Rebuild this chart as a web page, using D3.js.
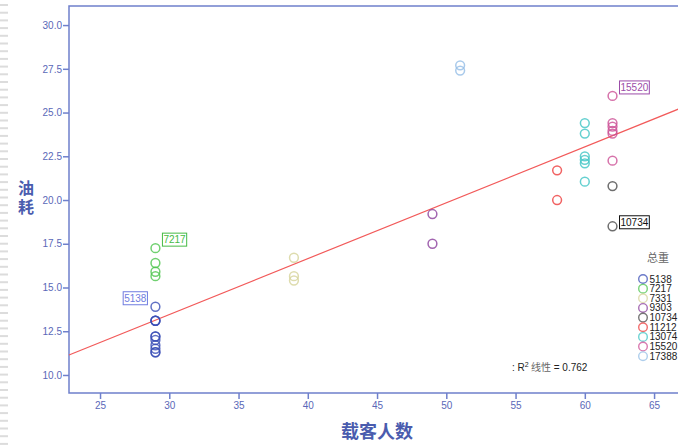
<!DOCTYPE html>
<html>
<head>
<meta charset="utf-8">
<script src="https://cdn.jsdelivr.net/npm/d3@7/dist/d3.min.js"></script>
<style>
  html, body { margin: 0; padding: 0; background: #fff; }
  svg { display: block; }
  .tick text { font-family: "Liberation Sans", Arial, sans-serif; font-size: 10px; fill: #5a68b8; }
</style>
</head>
<body>
<svg id="chart" width="678" height="446"></svg>
<script>
// 总重 groups (series), their passenger counts and fuel consumption readings
const groups = ["5138", "7217", "7331", "9303", "10734", "11212", "13074", "15520", "17388"];
const groupColors = ["#3a4db5", "#4cc44c", "#d6d39a", "#8b3f9c", "#4a4a4a", "#ee3c3c", "#3ec4c4", "#cc4f95", "#93bde6"];
const passengers = [29, 29, 39, 49, 62, 58, 60, 62, 51];
const fuel = [
  [13.9, 13.1, 13.1, 13.1, 12.2, 12.2, 12.0, 11.7, 11.5, 11.3, 11.3],
  [17.25, 16.4, 15.9, 15.65],
  [16.7, 15.65, 15.4],
  [19.2, 17.5],
  [20.8, 18.5],
  [21.7, 20.0],
  [24.4, 23.8, 22.5, 22.3, 22.1, 21.05],
  [25.95, 24.4, 24.2, 23.95, 23.8, 22.25],
  [27.7, 27.4]
];
// point labels: group and the reading that carries it
const labelGroups = ["5138", "7217", "15520", "10734"];
const labelValues = [13.9, 17.25, 25.95, 18.5];
const labelColors = ["#6f7ce0", "#45bb45", "#9b4ca8", "#111111"];

// linear fit (总体 R² 线性)
const fitIntercept = 3.87;
const fitSlope = 0.3195;
const rSquared = 0.762;

const xTicks = [25, 30, 35, 40, 45, 50, 55, 60, 65];
const yTicks = [10.0, 12.5, 15.0, 17.5, 20.0, 22.5, 25.0, 27.5, 30.0];
const xTitle = "载客人数";
const yTitle = "油耗";
const legendTitle = "总重";

const svg = d3.select("#chart");
const plotLeft = 69, plotRight = 679, plotTop = 6, plotBottom = 393;
const axisColor = "#6f80cc";

// page edge marks on the far left
const edge = svg.append("g");
d3.range(4, 446, 7.7).forEach(v => {
  edge.append("rect").attr("x", 0).attr("y", v).attr("width", 8).attr("height", 2).attr("fill", "#dcdcdc");
});

const x = d3.scaleLinear().domain([22.76, 66.8]).range([plotLeft, plotRight]);
const y = d3.scaleLinear().domain([8.97, 31.09]).range([plotBottom, plotTop]);

// plot frame
svg.append("path")
  .attr("d", `M${plotRight},${plotTop}H${plotLeft}V${plotBottom}H${plotRight}`)
  .attr("fill", "none").attr("stroke", axisColor).attr("stroke-width", 1.5);

// axes
const yAxis = svg.append("g").attr("transform", `translate(${plotLeft},0)`)
  .call(d3.axisLeft(y).tickValues(yTicks).tickFormat(d3.format(".1f")).tickSize(6).tickPadding(1));
const xAxis = svg.append("g").attr("transform", `translate(0,${plotBottom})`)
  .call(d3.axisBottom(x).tickValues(xTicks).tickFormat(d3.format("d")).tickSize(6).tickPadding(3));
[xAxis, yAxis].forEach(g => {
  g.select(".domain").remove();
  g.selectAll(".tick line").attr("stroke", axisColor).attr("stroke-width", 1.5);
});

// axis titles
svg.append("text").attr("x", 377).attr("y", 438).attr("text-anchor", "middle")
  .attr("font-family", "'Noto Sans CJK SC', sans-serif").attr("font-weight", "bold")
  .attr("font-size", 18).attr("fill", "#4a5cae").text(xTitle);
// vertical title: one character per line
svg.append("text").attr("x", 26).attr("y", 180).attr("text-anchor", "start")
  .attr("font-family", "'Noto Sans CJK SC', sans-serif").attr("font-weight", "bold")
  .attr("font-size", 16).attr("fill", "#4a5cae").attr("writing-mode", "vertical-rl")
  .attr("dominant-baseline", "central").attr("letter-spacing", 3)
  .text(yTitle);

// fit line
const plot = svg.append("g");
const xd = x.domain();
plot.append("line")
  .attr("x1", x(xd[0])).attr("y1", y(fitIntercept + fitSlope * xd[0]))
  .attr("x2", x(xd[1])).attr("y2", y(fitIntercept + fitSlope * xd[1]))
  .attr("stroke", "#f25a5a").attr("stroke-width", 1.2);

// points
groups.forEach((gname, i) => {
  plot.selectAll(null).data(fuel[i]).enter().append("circle")
    .attr("cx", x(passengers[i])).attr("cy", d => y(d)).attr("r", 4.4)
    .attr("fill", "none").attr("stroke", groupColors[i])
    .attr("stroke-width", 1.5).attr("stroke-opacity", 0.8);
});

// point labels
labelGroups.forEach((gname, k) => {
  const i = groups.indexOf(gname);
  const px = x(passengers[i]), py = y(labelValues[k]);
  const onLeft = gname === "5138";
  const cy = gname === "10734" ? py - 4 : py - 8.5;
  const g = svg.append("g");
  const box = g.append("rect");
  const t = g.append("text")
    .attr("font-family", "'Liberation Sans', Arial, sans-serif").attr("font-size", 10)
    .attr("fill", labelColors[k]).attr("dominant-baseline", "central")
    .attr("y", cy).text(gname);
  const w = t.node().getComputedTextLength();
  const bx = onLeft ? px - 8 - w - 2 : px + 7;
  t.attr("x", bx + 1);
  box.attr("x", bx).attr("y", cy - 6.5).attr("width", w + 2).attr("height", 13)
    .attr("fill", "#fff").attr("stroke", labelColors[k]).attr("stroke-width", 1);
});

// R² annotation
const r2 = svg.append("text").attr("x", 512).attr("y", 371)
  .attr("font-family", "'Liberation Sans', Arial, sans-serif").attr("font-size", 10).attr("fill", "#222");
r2.append("tspan").text(": R");
r2.append("tspan").attr("font-size", 7).attr("dy", -4).text("2");
r2.append("tspan").attr("dy", 4).attr("fill", "#666").attr("font-family", "'Noto Sans CJK SC', sans-serif").text(" 线性");
r2.append("tspan").text(" = " + rSquared.toFixed(3));

// legend
svg.append("text").attr("x", 658).attr("y", 262).attr("text-anchor", "middle")
  .attr("font-family", "'Noto Sans CJK SC', sans-serif").attr("font-size", 11).attr("fill", "#666")
  .text(legendTitle);
const leg = svg.append("g");
groups.forEach((gname, i) => {
  const ly = 279 + i * 9.65;
  leg.append("circle").attr("cx", 643).attr("cy", ly).attr("r", 4.3)
    .attr("fill", "none").attr("stroke", groupColors[i]).attr("stroke-width", 1.4).attr("stroke-opacity", 0.75);
  leg.append("text").attr("x", 649.5).attr("y", ly).attr("dominant-baseline", "central")
    .attr("font-family", "'Liberation Sans', Arial, sans-serif").attr("font-size", 10).attr("fill", "#222")
    .text(gname);
});
</script>
</body>
</html>
